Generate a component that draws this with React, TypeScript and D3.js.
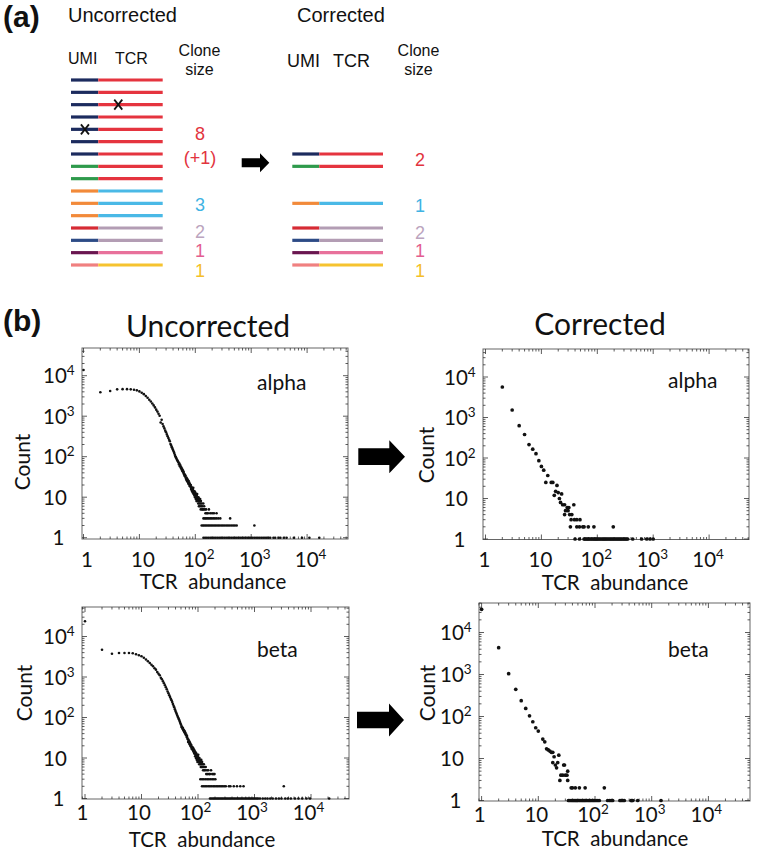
import React from 'react';
import * as d3 from 'd3';

// ---------- Panel (a) data ----------
const UMI_COLORS: Record<string, string> = {
  navy: '#1c2b5e', green: '#2e9a4b', orange: '#f28a3a', red: '#d62b34',
  navy2: '#2d4b86', purple: '#6a1650', salmon: '#f08080',
};
const TCR_COLORS: Record<string, string> = {
  c1: '#e5343f', c2: '#4ab9e6', c3: '#b39db4', c4: '#e8719b', c5: '#f6c32f',
};
const LABEL_COLORS: Record<string, string> = {
  c1: '#e2343e', c2: '#3fb3e3', c3: '#bba4be', c4: '#e35d90', c5: '#f4bf2a',
};

const uncorrectedUMI = ['navy', 'navy', 'navy', 'navy', 'navy', 'navy', 'navy', 'green', 'green',
  'orange', 'orange', 'orange', 'red', 'navy2', 'purple', 'salmon'];
const uncorrectedTCR = ['c1', 'c1', 'c1', 'c1', 'c1', 'c1', 'c1', 'c1', 'c1',
  'c2', 'c2', 'c2', 'c3', 'c3', 'c4', 'c5'];
const uncorrectedErrorRows = [2, 4];
const uncorrectedErrorSegments = ['tcr', 'umi'];
const uncorrectedSizeLabels = ['8', '(+1)', '3', '2', '1', '1'];
const uncorrectedSizeClones = ['c1', 'c1', 'c2', 'c3', 'c4', 'c5'];
const uncorrectedSizeSlots = [4.4, 6.3, 10.15, 12.3, 13.9, 15.45];

const correctedSlots = [6, 7, 10, 12, 13, 14, 15];
const correctedUMI = ['navy', 'green', 'orange', 'red', 'navy2', 'purple', 'salmon'];
const correctedTCR = ['c1', 'c1', 'c2', 'c3', 'c3', 'c4', 'c5'];
const correctedSizeLabels = ['2', '1', '2', '1', '1'];
const correctedSizeClones = ['c1', 'c2', 'c3', 'c4', 'c5'];
const correctedSizeSlots = [6.5, 10.25, 12.37, 13.9, 15.45];

// ---------- Panel (b) data: [TCR abundance, count] ----------
const alphaUncorrectedCurve: [number, number][] = [
  [1, 13800], [2, 3900], [3, 4200], [4, 4600], [5, 4650], [6, 4650], [7, 4600], [8, 4500], [9, 4350],
  [10, 4100], [11, 3800], [12, 3500], [13, 3150], [14, 2850], [15, 2550], [16, 2300], [17, 2050],
  [18, 1850], [19, 1650], [20, 1450], [21, 1300], [22, 1150], [23, 1030], [24, 700], [25, 820],
  [26, 640], [27, 560], [28, 500], [29, 440], [30, 400], [31, 355], [32, 320], [33, 290], [34, 262],
  [35, 240], [36, 205], [37, 190], [38, 172], [39, 158], [40, 146], [41, 134], [42, 124], [43, 112],
  [44, 102], [45, 96], [46, 90], [47, 84], [48, 80], [49, 76], [50, 72], [51, 64], [52, 68], [53, 58],
  [54, 61], [55, 53], [56, 55], [57, 48], [58, 50], [59, 44], [60, 46], [61, 40], [62, 42], [63, 37],
  [64, 34], [65, 36], [66, 32], [67, 34], [68, 29], [69, 27], [70, 30], [71, 25], [72, 28], [73, 24],
  [74, 26], [75, 22], [76, 25], [77, 21], [78, 23], [79, 19], [80, 21], [82, 18], [83, 20], [84, 16],
  [85, 18], [86, 15], [87, 17], [88, 14], [89, 16], [90, 13], [91, 15], [92, 17], [93, 12], [94, 14],
  [95, 13], [96, 11], [97, 14], [98, 12], [99, 10], [100, 13], [101, 11], [102, 9], [103, 12],
  [104, 10], [105, 8], [106, 11], [107, 9], [108, 12], [110, 8], [111, 10], [112, 9], [113, 7],
  [114, 10], [115, 8], [116, 6], [117, 9], [118, 7], [120, 8], [121, 6], [122, 9], [124, 7], [125, 5],
  [126, 8], [128, 6], [130, 7], [132, 5], [134, 6], [136, 5], [139, 7], [141, 5], [144, 6], [148, 5],
  [152, 4], [156, 5], [160, 4], [168, 4], [175, 5], [185, 4], [200, 4], [215, 4], [240, 4],
];
const alphaUncorrectedCount3 = [140, 148, 156, 165, 175, 186, 197, 210, 224, 240, 258, 280, 420];
const alphaUncorrectedCount2 = [130, 138, 146, 155, 165, 175, 186, 198, 211, 225, 240, 256, 273, 292,
  312, 334, 358, 384, 412, 442, 475, 510, 550, 1140];
const alphaUncorrectedCount1 = [140, 150, 161, 173, 186, 200, 215, 231, 248, 267, 287, 309, 332, 357,
  384, 413, 444, 477, 513, 552, 593, 638, 686, 738, 793, 853, 917, 986, 1060, 1140, 1226, 1318, 1417,
  1524, 1638, 1762, 1894, 2036, 2190, 2500, 2690, 3100, 3330, 3830, 4300, 5800, 8100, 11000, 16500];

const alphaCorrectedCurve: [number, number][] = [
  [2, 5660], [3, 1530], [4, 630], [5, 380], [6, 215], [7, 165], [8, 128], [9, 86], [10, 62], [11, 50],
  [12, 25], [13, 37], [15, 25], [16, 25], [17, 12], [18, 15], [19, 21], [20, 14], [21, 10], [22, 8],
  [23, 13], [24, 7], [26, 7], [29, 6], [27, 5], [30, 5], [31, 6], [38, 7], [26, 4], [32, 4], [35, 4],
  [34, 3], [39, 3], [43, 3], [49, 3],
];
const alphaCorrectedCount2 = [33, 43, 48, 55, 58, 69, 87, 193];
const alphaCorrectedCount1 = [40, 48, 58, 60, 63, 66, 69, 72, 76, 80, 84, 88, 92, 96, 100, 105, 110,
  116, 122, 128, 134, 140, 147, 154, 162, 170, 178, 187, 196, 206, 216, 227, 238, 250, 262, 275, 289,
  303, 318, 334, 350, 430, 620, 765, 877, 1000];

const betaUncorrectedCurve: [number, number][] = [
  [1, 23700], [2, 4720], [3, 3760], [4, 3920], [5, 3920], [6, 3920], [7, 3850], [8, 3650], [9, 3450],
  [10, 3250], [11, 3000], [12, 2700], [13, 2450], [14, 2220], [15, 2000], [16, 1840], [17, 1650],
  [18, 1520], [19, 1320], [20, 1200], [21, 1100], [22, 960], [23, 880], [24, 780], [25, 700], [26, 623],
  [27, 560], [28, 500], [29, 440], [30, 395], [31, 353], [32, 320], [33, 290], [34, 266], [35, 240],
  [36, 215], [37, 195], [38, 178], [39, 159], [40, 145], [41, 132], [42, 122], [43, 112], [44, 103],
  [45, 97], [46, 90], [47, 83], [48, 77], [49, 71], [50, 66], [51, 58], [52, 60], [53, 53], [54, 55],
  [55, 48], [56, 50], [57, 44], [58, 46], [59, 40], [60, 42], [61, 37], [62, 38], [63, 33], [64, 35],
  [65, 31], [66, 29], [67, 25], [68, 28], [69, 24], [70, 26], [71, 22], [72, 24], [73, 20], [74, 22],
  [75, 19], [76, 21], [77, 17], [78, 19], [80, 16], [81, 18], [82, 15], [83, 17], [84, 14], [85, 16],
  [86, 13], [87, 15], [88, 13], [89, 11], [90, 14], [91, 12], [92, 10], [93, 13], [94, 11], [95, 9],
  [96, 12], [97, 10], [98, 8], [99, 11], [100, 9], [101, 12], [102, 8], [103, 10], [104, 9], [105, 7],
  [106, 10], [107, 8], [108, 9], [110, 7], [111, 8], [112, 6], [114, 9], [115, 7], [116, 6], [118, 8],
  [120, 6], [121, 7], [123, 5], [125, 6], [127, 7], [129, 5], [131, 6], [134, 5], [137, 6], [140, 4],
  [144, 5], [148, 4], [152, 5], [157, 4], [163, 4], [170, 5], [178, 4], [187, 4], [196, 4],
];
const betaUncorrectedCount3 = [110, 118, 126, 135, 145, 155, 166, 178, 190, 203];
const betaUncorrectedCount2 = [118, 126, 134, 143, 153, 163, 174, 186, 198, 211, 225, 240, 256, 273,
  291, 310, 352, 375, 430, 490, 560, 640, 3300];
const betaUncorrectedCount1 = [163, 172, 182, 192, 203, 214, 226, 239, 252, 266, 281, 297, 313, 331,
  349, 369, 389, 411, 434, 458, 484, 511, 540, 570, 602, 636, 672, 710, 750, 792, 836, 883, 932, 984,
  1040, 1100, 1160, 1250, 1400, 1550, 1700, 1900, 2100, 2400, 2700, 3000, 3500, 3900, 4400, 5200,
  6000, 7000, 8300, 9600, 21000];

const betaCorrectedCurve: [number, number][] = [
  [1, 35600], [2, 4350], [3, 1045], [4, 444], [5, 238], [6, 156], [7, 104], [8, 75], [9, 54], [10, 45],
  [12, 29], [13, 25], [14, 17], [15, 16], [16, 15], [17, 14], [18, 14], [19, 11], [18, 8], [20, 7],
  [21, 6], [22, 8], [23, 12], [24, 3], [25, 4], [27, 4], [28, 7], [29, 7], [30, 4], [32, 4], [33, 5],
  [33, 3],
];
const betaCorrectedCount2 = [38, 40, 45, 53, 67, 146];
const betaCorrectedCount1 = [34, 36, 38, 40, 42, 44, 46, 48, 50, 53, 56, 59, 62, 65, 68, 72, 76, 80,
  84, 89, 94, 99, 105, 112, 119, 167, 180, 192, 205, 275, 290, 310, 329, 431, 446, 462, 566, 1460];

const xTickValues = [1, 10, 100, 1000, 10000];
const yTickValues = [1, 10, 100, 1000, 10000];
const chainLabels = ['alpha', 'alpha', 'beta', 'beta'];

const withCount = (xs: number[], c: number): [number, number][] => xs.map((x) => [x, c]);

const datasets: [number, number][][] = [
  [...alphaUncorrectedCurve, ...withCount(alphaUncorrectedCount3, 3), ...withCount(alphaUncorrectedCount2, 2), ...withCount(alphaUncorrectedCount1, 1)],
  [...alphaCorrectedCurve, ...withCount(alphaCorrectedCount2, 2), ...withCount(alphaCorrectedCount1, 1)],
  [...betaUncorrectedCurve, ...withCount(betaUncorrectedCount3, 3), ...withCount(betaUncorrectedCount2, 2), ...withCount(betaUncorrectedCount1, 1)],
  [...betaCorrectedCurve, ...withCount(betaCorrectedCount2, 2), ...withCount(betaCorrectedCount1, 1)],
];

// ---------- layout ----------
type Layout = {
  frame: [number, number, number, number];
  x1: number; xDec: number; y1: number; yDec: number;
  r: number; xLabOff: number; xLabBase: number;
  countPos: [number, number]; abundPos: [number, number]; chainPos: [number, number];
};
const layouts: Layout[] = [
  { frame: [82, 348, 348, 539], x1: 83.5, xDec: 55.9, y1: 537.7, yDec: 40.5, r: 1.3, xLabOff: 3.5, xLabBase: 567,
    countPos: [21, 462], abundPos: [213, 589], chainPos: [257, 390] },
  { frame: [483, 349, 749, 539.5], x1: 485.5, xDec: 55.9, y1: 539, yDec: 40.5, r: 1.85, xLabOff: -1, xLabBase: 567,
    countPos: [425, 455], abundPos: [615, 590], chainPos: [668, 388] },
  { frame: [82, 607, 349, 799], x1: 85, xDec: 56.5, y1: 798.5, yDec: 40.5, r: 1.3, xLabOff: -2.5, xLabBase: 820,
    countPos: [23, 693], abundPos: [202, 847], chainPos: [257, 657] },
  { frame: [479, 603, 750, 801], x1: 481.6, xDec: 56.7, y1: 800.5, yDec: 42, r: 1.85, xLabOff: -2, xLabBase: 822,
    countPos: [426, 693], abundPos: [615, 846], chainPos: [668, 657] },
];

const SANS_A = '"Liberation Sans", Arial, sans-serif';
const SANS_B = 'Lato, "Open Sans", sans-serif';

function PowerLabel({ v, x, y, anchor }: { v: number; x: number; y: number; anchor: string }) {
  const e = Math.round(Math.log10(v));
  return (
    <text x={x} y={y} textAnchor={anchor} fontFamily={SANS_B} fontSize={20.5} fill="#111">
      {e === 0 ? '1' : e === 1 ? '10' : (
        <>
          <tspan>10</tspan>
          <tspan dy={-8} fontSize={13.5}>{e}</tspan>
        </>
      )}
    </text>
  );
}

function LogPlot({ data, lay, chain }: { data: [number, number][]; lay: Layout; chain: string }) {
  const [l, t, r, b] = lay.frame;
  const x = d3.scaleLog().domain([1, 1e4]).range([lay.x1, lay.x1 + 4 * lay.xDec]);
  const y = d3.scaleLog().domain([1, 1e4]).range([lay.y1, lay.y1 - 4 * lay.yDec]);
  const ticks = (sc: d3.ScaleLogarithmic<number, number>, a: number, c: number) => {
    const lo = Math.min(sc.invert(a), sc.invert(c));
    const hi = Math.max(sc.invert(a), sc.invert(c));
    const out: { p: number; major: boolean }[] = [];
    for (let d = -2; d <= 6; d++) {
      for (let k = 1; k <= 9; k++) {
        const v = k * Math.pow(10, d);
        if (v >= lo && v <= hi) out.push({ p: sc(v), major: k === 1 });
      }
    }
    return out;
  };
  const xt = ticks(x, l, r);
  const yt = ticks(y, b, t);
  return (
    <g>
      <rect x={l} y={t} width={r - l} height={b - t} fill="none" stroke="#666" strokeWidth={1} />
      {xt.map((tk, i) => (
        <g key={'x' + i} stroke="#333" strokeWidth={0.8}>
          <line x1={tk.p} x2={tk.p} y1={b} y2={b - (tk.major ? 5 : 2.5)} />
          <line x1={tk.p} x2={tk.p} y1={t} y2={t + (tk.major ? 5 : 2.5)} />
        </g>
      ))}
      {yt.map((tk, i) => (
        <g key={'y' + i} stroke="#333" strokeWidth={0.8}>
          <line x1={l} x2={l + (tk.major ? 5 : 2.5)} y1={tk.p} y2={tk.p} />
          <line x1={r} x2={r - (tk.major ? 5 : 2.5)} y1={tk.p} y2={tk.p} />
        </g>
      ))}
      {data.map(([a, c], i) => (
        <circle key={i} cx={x(a)} cy={y(c)} r={lay.r} fill="#111" />
      ))}
      {xTickValues.map((v) => (
        <PowerLabel key={'xl' + v} v={v} x={x(v) + lay.xLabOff} y={lay.xLabBase} anchor="middle" />
      ))}
      {yTickValues.map((v) => (
        <PowerLabel key={'yl' + v} v={v} x={v === 1 ? l - 29.5 : l - 39} y={y(v) + 7.5} anchor="start" />
      ))}
      <text transform={`translate(${lay.countPos[0]},${lay.countPos[1]}) rotate(-90)`} textAnchor="middle"
        dominantBaseline="central" fontFamily={SANS_B} fontSize={21} fill="#111">Count</text>
      <text x={lay.abundPos[0]} y={lay.abundPos[1]} textAnchor="middle" fontFamily={SANS_B} fontSize={20.5}
        fill="#111">{'TCR\u00A0 abundance'}</text>
      <text x={lay.chainPos[0]} y={lay.chainPos[1]} fontFamily={SANS_B} fontSize={21} fill="#111">{chain}</text>
    </g>
  );
}

function Arrow({ x0, x1, xt, cy, bh, hh }: { x0: number; x1: number; xt: number; cy: number; bh: number; hh: number }) {
  const pts = [
    [x0, cy - bh / 2], [x1, cy - bh / 2], [x1, cy - hh / 2], [xt, cy], [x1, cy + hh / 2], [x1, cy + bh / 2], [x0, cy + bh / 2],
  ];
  return <polygon points={pts.map((p) => p.join(',')).join(' ')} fill="#000" />;
}

function PanelA() {
  const slot = d3.scaleLinear().domain([0, 15]).range([80, 265]);
  const L = { u0: 71, u1: 98.3, t1: 162.7 };
  const R = { u0: 292.3, u1: 319.3, t1: 383 };
  const sw = 3.2;
  return (
    <g>
      <text x={3} y={27} fontFamily={SANS_A} fontSize={30} fontWeight="bold" fill="#111">(a)</text>
      <text x={68} y={21.5} fontFamily={SANS_A} fontSize={20} fill="#111">Uncorrected</text>
      <text x={297} y={21.5} fontFamily={SANS_A} fontSize={20} fill="#111">Corrected</text>
      <text x={68} y={64} fontFamily={SANS_A} fontSize={16} fill="#111">UMI</text>
      <text x={115} y={64} fontFamily={SANS_A} fontSize={16} fill="#111">TCR</text>
      <text x={199.5} y={55.5} textAnchor="middle" fontFamily={SANS_A} fontSize={16} fill="#111">Clone</text>
      <text x={199.5} y={74.5} textAnchor="middle" fontFamily={SANS_A} fontSize={16} fill="#111">size</text>
      <text x={287} y={66.5} fontFamily={SANS_A} fontSize={18} fill="#111">UMI</text>
      <text x={333} y={66.5} fontFamily={SANS_A} fontSize={18} fill="#111">TCR</text>
      <text x={418.5} y={55.5} textAnchor="middle" fontFamily={SANS_A} fontSize={16} fill="#111">Clone</text>
      <text x={418.5} y={74.5} textAnchor="middle" fontFamily={SANS_A} fontSize={16} fill="#111">size</text>

      {uncorrectedUMI.map((u, i) => (
        <g key={'lu' + i}>
          <line x1={L.u0} x2={L.u1} y1={slot(i)} y2={slot(i)} stroke={UMI_COLORS[u]} strokeWidth={sw} />
          <line x1={L.u1} x2={L.t1} y1={slot(i)} y2={slot(i)} stroke={TCR_COLORS[uncorrectedTCR[i]]} strokeWidth={sw} />
        </g>
      ))}
      {uncorrectedErrorRows.map((row, i) => {
        const cx = uncorrectedErrorSegments[i] === 'tcr' ? L.u1 + (L.t1 - L.u1) * 0.31 : L.u0 + (L.u1 - L.u0) * 0.51;
        const cy = slot(row);
        return (
          <g key={'err' + i} stroke="#111" strokeWidth={1.8}>
            <line x1={cx - 4} x2={cx + 4} y1={cy - 5} y2={cy + 5} />
            <line x1={cx - 4} x2={cx + 4} y1={cy + 5} y2={cy - 5} />
          </g>
        );
      })}
      {uncorrectedSizeLabels.map((s, i) => (
        <text key={'ls' + i} x={200} y={slot(uncorrectedSizeSlots[i])} textAnchor="middle" dominantBaseline="central"
          fontFamily={SANS_A} fontSize={18} fill={LABEL_COLORS[uncorrectedSizeClones[i]]}>{s}</text>
      ))}

      {correctedSlots.map((s, i) => (
        <g key={'ru' + i}>
          <line x1={R.u0} x2={R.u1} y1={slot(s)} y2={slot(s)} stroke={UMI_COLORS[correctedUMI[i]]} strokeWidth={sw} />
          <line x1={R.u1} x2={R.t1} y1={slot(s)} y2={slot(s)} stroke={TCR_COLORS[correctedTCR[i]]} strokeWidth={sw} />
        </g>
      ))}
      {correctedSizeLabels.map((s, i) => (
        <text key={'rs' + i} x={420} y={slot(correctedSizeSlots[i])} textAnchor="middle" dominantBaseline="central"
          fontFamily={SANS_A} fontSize={18} fill={LABEL_COLORS[correctedSizeClones[i]]}>{s}</text>
      ))}
      <Arrow x0={241.7} x1={260} xt={269.3} cy={162.8} bh={9} hh={19} />
    </g>
  );
}

export default function App() {
  return (
    <svg width={760} height={852} style={{ position: 'absolute', left: 0, top: 0, background: '#fff' }}>
      <rect width={760} height={852} fill="#fff" />
      <PanelA />
      <text x={3} y={330.5} fontFamily={SANS_A} fontSize={30} fontWeight="bold" fill="#111">(b)</text>
      <text x={208} y={336.5} textAnchor="middle" fontFamily={SANS_B} fontSize={30} fill="#111">Uncorrected</text>
      <text x={600} y={335} textAnchor="middle" fontFamily={SANS_B} fontSize={30} fill="#111">Corrected</text>
      {layouts.map((lay, i) => (
        <LogPlot key={i} data={datasets[i]} lay={lay} chain={chainLabels[i]} />
      ))}
      <Arrow x0={358.3} x1={389.3} xt={405} cy={456.7} bh={16.7} hh={33} />
      <Arrow x0={357} x1={389} xt={404} cy={720} bh={16.7} hh={33} />
    </svg>
  );
}
